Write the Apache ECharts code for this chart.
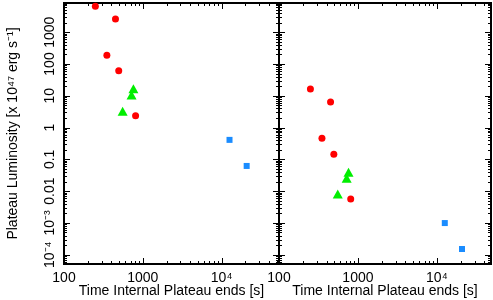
<!DOCTYPE html>
<html><head><meta charset="utf-8">
<script src="https://cdn.jsdelivr.net/npm/echarts@6/dist/echarts.min.js"></script>
<style>html,body{margin:0;padding:0;background:#fff}#c{width:493px;height:300px}</style>
</head><body><div id="c"></div>
<script>
// ---- data ----
const xTitle = 'Time Internal Plateau ends [s]';
const yTitle = 'Plateau Luminosity [x 10\u2074\u2077 erg s\u207B\u00B9]';
const redX   = [250, 450, 350, 495, 810];
const greenX = [760, 720, 555];
const blueX  = [12600, 20800];
// left panel
const redYLeft   = [6560, 2620, 190, 61, 2.36];
const greenYLeft = [16.6, 10.5, 3.25];
const blueYLeft  = [0.41, 0.062];
// right panel
const redYRight   = [16.3, 6.4, 0.46, 0.145, 0.0057];
const greenYRight = [0.0395, 0.0256, 0.0081];
const blueYRight  = [9.9e-4, 1.51e-4];
// axis ranges
const xRangeLeft  = [100, 53500];
const xRangeRight = [100, 48500];
const yRange = [5.1e-5, 8300];
const xTickLabels = {2: '100', 3: '1000', 4: '10\u2074'};
const yTickLabels = {'-4': '10\u207B\u2074', '-3': '10\u207B\u00B3', '-2': '0.01', '-1': '0.1', '0': '1', '1': '10', '2': '100', '3': '1000'};

const FONT = '"Liberation Sans", Arial, Helvetica, sans-serif';
const zip = (xs, ys) => xs.map((x, i) => [x, ys[i]]);

function logTicks(min, max) {
  const out = [];
  for (let k = Math.floor(Math.log10(min)); k <= Math.ceil(Math.log10(max)); k++) {
    for (let m = 1; m <= 9; m++) {
      const v = m * Math.pow(10, k);
      if (v >= min * 0.9999 && v <= max * 1.0001) out.push([v, m === 1]);
    }
  }
  return out;
}

function tickSeries(gi, xr, yr, leftIn, rightIn) {
  const xt = logTicks(xr[0], xr[1]);
  const yt = logTicks(yr[0], yr[1]);
  return {
    type: 'custom', xAxisIndex: gi, yAxisIndex: gi, clip: false, silent: true, z: 10,
    data: [[xr[0], yr[0]]],
    renderItem: function (params, api) {
      const ch = [];
      const sx = v => Math.round(v) + 0.5;
      const line = (x1, y1, x2, y2) => ch.push({type: 'line', shape: {x1, y1, x2, y2}, style: {stroke: '#000', lineWidth: 1}});
      xt.forEach(([v, major]) => {
        const L = major ? 6 : 3;
        const b = api.coord([v, yr[0]]), t = api.coord([v, yr[1]]);
        const x = sx(b[0]);
        line(x, b[1], x, b[1] - L);
        line(x, t[1], x, t[1] + L);
      });
      yt.forEach(([v, major]) => {
        const L = major ? 6 : 3;
        const l = api.coord([xr[0], v]), r = api.coord([xr[1], v]);
        const y = sx(l[1]);
        if (leftIn) line(l[0], y, l[0] + L, y);
        if (rightIn) line(r[0], y, r[0] - L, y);
      });
      return {type: 'group', children: ch};
    }
  };
}

function xAxis(gi, xr) {
  return {
    type: 'log', gridIndex: gi, min: xr[0], max: xr[1], logBase: 10,
    name: xTitle, nameLocation: 'middle', nameGap: 20, nameMoveOverlap: false,
    nameTextStyle: {fontFamily: FONT, fontSize: 14, color: '#000'},
    axisLine: {show: true, lineStyle: {color: '#000', width: 2}},
    axisTick: {show: false}, splitLine: {show: false},
    axisLabel: {
      margin: 7, fontFamily: FONT, fontSize: 14, color: '#000', showMinLabel: true, showMaxLabel: true,
      formatter: v => { const e = Math.log10(v); const r = Math.round(e); return Math.abs(e - r) < 1e-6 && xTickLabels[r] ? xTickLabels[r] : ''; }
    }
  };
}
function yAxis(gi, labels) {
  return {
    type: 'log', gridIndex: gi, min: yRange[0], max: yRange[1], logBase: 10,
    name: labels ? yTitle : '', nameLocation: 'middle', nameGap: 44, nameMoveOverlap: false,
    nameTextStyle: {fontFamily: FONT, fontSize: 14, color: '#000'},
    axisLine: {show: true, lineStyle: {color: '#000', width: 2}},
    axisTick: {show: false}, splitLine: {show: false},
    axisLabel: {
      show: labels, rotate: 90, margin: 7, fontFamily: FONT, fontSize: 14, color: '#000',
      formatter: v => { const e = Math.log10(v); const r = Math.round(e); return Math.abs(e - r) < 1e-6 && yTickLabels[String(r)] ? yTickLabels[String(r)] : ''; }
    }
  };
}
function scatter(gi, data, symbol, size, color) {
  return {type: 'scatter', xAxisIndex: gi, yAxisIndex: gi, data, symbol, symbolSize: size,
          itemStyle: {color, opacity: 1}, z: 5, clip: false};
}

const chart = echarts.init(document.getElementById('c'), null, {renderer: 'canvas'});
chart.setOption({
  animation: false,
  backgroundColor: '#fff',
  grid: [
    {left: 64, top: 3, width: 215, height: 261, containLabel: false, outerBoundsMode: 'none', show: true, borderColor: '#000', borderWidth: 2, backgroundColor: 'transparent'},
    {left: 279, top: 3, width: 212, height: 261, containLabel: false, outerBoundsMode: 'none', show: true, borderColor: '#000', borderWidth: 2, backgroundColor: 'transparent'}
  ],
  xAxis: [xAxis(0, xRangeLeft), xAxis(1, xRangeRight)],
  yAxis: [yAxis(0, true), yAxis(1, false)],
  series: [
    scatter(0, zip(redX, redYLeft), 'circle', 7, '#ff0000'),
    scatter(0, zip(greenX, greenYLeft), 'triangle', [10, 9], '#00ee00'),
    scatter(0, zip(blueX, blueYLeft), 'rect', 6, '#1a8cff'),
    scatter(1, zip(redX, redYRight), 'circle', 7, '#ff0000'),
    scatter(1, zip(greenX, greenYRight), 'triangle', [10, 9], '#00ee00'),
    scatter(1, zip(blueX, blueYRight), 'rect', 6, '#1a8cff'),
    tickSeries(0, xRangeLeft, yRange, true, true),
    tickSeries(1, xRangeRight, yRange, true, true)
  ]
});
</script></body></html>
